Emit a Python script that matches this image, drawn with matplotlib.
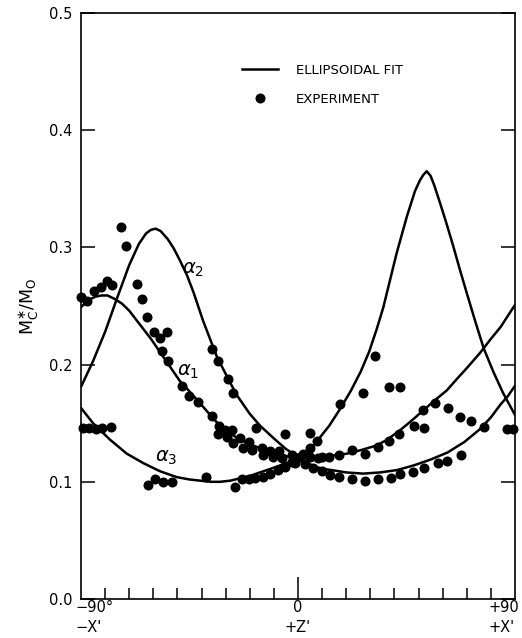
import matplotlib
matplotlib.use("Agg")
import matplotlib.pyplot as plt
import matplotlib.transforms as mtransforms
from matplotlib.lines import Line2D

plt.rcParams['font.family'] = ['DejaVu Sans']
plt.rcParams['mathtext.fontset'] = 'dejavusans'

# ---------------- data ----------------
# fitted curves (angle in degrees, M_c*/M_o)
a1_deg = [-90, -87, -84, -81.5, -79, -76, -73, -70, -65.5, -61, -57, -53, -49, -44.5, -40.6, -36,
          -32, -26.5, -21, -15, -10, -5, 0,
          4, 7, 10.5, 14, 20, 27, 34, 41, 48, 55, 62, 69, 75.5, 80, 84, 87, 90]
a1_val = [0.249, 0.255, 0.258, 0.259, 0.259, 0.256, 0.252, 0.246, 0.234, 0.222, 0.210, 0.198, 0.186,
          0.176, 0.167, 0.156, 0.147, 0.139, 0.133, 0.128, 0.125, 0.122, 0.119,
          0.116, 0.113, 0.111, 0.110, 0.108, 0.107, 0.108, 0.110, 0.114, 0.119, 0.125, 0.134, 0.145,
          0.155, 0.166, 0.173, 0.182]

a2_deg = [-90, -85, -80, -75, -70, -66, -63, -61, -59, -57, -54, -51.5, -49, -46, -43.4, -39.3,
          -33.7, -29, -25.4, -20, -15.8, -10, -5, -2, 0, 2, 5, 8, 13, 17.4, 22, 26, 29.5, 32.6,
          35.4, 40.9, 45.1, 48.5, 50.5, 52, 53.4, 55, 56.5, 58.9, 61.5, 64.4, 67, 70, 73.5, 77,
          81, 85, 90]
a2_val = [0.181, 0.203, 0.228, 0.257, 0.285, 0.303, 0.312, 0.315, 0.316, 0.314, 0.307, 0.299, 0.289,
          0.276, 0.262, 0.237, 0.207, 0.188, 0.174, 0.158, 0.148, 0.137, 0.128, 0.124, 0.123, 0.124,
          0.128, 0.135, 0.148, 0.162, 0.178, 0.194, 0.211, 0.230,
          0.249, 0.295, 0.326, 0.348, 0.357, 0.362, 0.365, 0.361, 0.353, 0.338, 0.321, 0.301, 0.282,
          0.261, 0.237, 0.214, 0.194, 0.176, 0.157]

a3_deg = [-90, -85, -78, -71, -64.2, -57.2, -50.3, -45, -40.6, -36, -32.4, -28, -24, -20, -15.8,
          -11.5, -7.5, -3.5, 0, 3, 6.3, 13, 20.2, 26, 32.6, 37, 42.3, 47, 52, 57, 61.7, 66, 70,
          75.5, 80, 84, 90]
a3_val = [0.163, 0.150, 0.136, 0.124, 0.116, 0.109, 0.104, 0.102, 0.101, 0.100, 0.100, 0.101, 0.103,
          0.105, 0.108, 0.111, 0.114, 0.117, 0.119,
          0.120, 0.121, 0.122, 0.124, 0.127, 0.131, 0.136, 0.144, 0.152, 0.161, 0.170, 0.178, 0.188,
          0.197, 0.210, 0.222, 0.232, 0.251]

# experimental points
exp_deg = [-90.1, -87.4, -84.6, -81.8, -79.1, -77.3, -73.5, -71.5, -66.9, -64.8, -62.8, -59.6, -57.2,
           -54.2, -56.5, -54.0, -48.2, -45.1, -41.6, -35.8, -32.6, -33.1, -30.3, -27.3, -29.6, -26.8,
           -24.1, -22.7, -20.2, -19.2, -15.1, -14.4, -11.6, -10.2, -7.8, -6.8, -2.6, -2.6, 0.8, 2.2,
           5.0, 8.4, 13.0, 9.8,
           -35.8, -33.1, -28.9, -26.8, -17.4, -5.4, 5.0, 8.0, 5.0, 17.1, 22.3, 27.8, 33.3, 37.7,
           42.0, 48.1, 52.4, 52.0, 56.8, 62.3, 67.2, 71.8, 77.3, 86.6, 89.3, 17.4, 27.1, 31.9,
           37.7, 42.3,
           -89.0, -86.7, -83.9, -81.2, -77.6, -62.1, -59.3, -55.9, -52.1, -38.2, -26.1, -23.4,
           -20.2, -17.8, -14.6, -11.6, -8.4, -5.4, -1.2, 2.9, 6.1, 9.8, 13.3, 17.1, 22.5, 27.8,
           33.3, 38.4, 42.3, 47.8, 52.4, 58.2, 61.9, 67.6]
exp_val = [0.258, 0.254, 0.263, 0.266, 0.271, 0.268, 0.317, 0.301, 0.269, 0.256, 0.241, 0.228, 0.223,
           0.228, 0.212, 0.203, 0.182, 0.173, 0.168, 0.156, 0.148, 0.141, 0.144, 0.144, 0.138, 0.133,
           0.137, 0.129, 0.134, 0.127, 0.129, 0.123, 0.126, 0.121, 0.126, 0.120, 0.123, 0.117, 0.121,
           0.124, 0.121, 0.120, 0.121, 0.121,
           0.213, 0.203, 0.188, 0.176, 0.146, 0.141, 0.142, 0.135, 0.129, 0.123, 0.127, 0.124, 0.130,
           0.135, 0.141, 0.148, 0.146, 0.161, 0.167, 0.163, 0.155, 0.152, 0.147, 0.145, 0.145, 0.166,
           0.176, 0.207, 0.181, 0.181,
           0.146, 0.146, 0.145, 0.146, 0.147, 0.097, 0.102, 0.100, 0.100, 0.104, 0.096, 0.102,
           0.102, 0.103, 0.104, 0.107, 0.110, 0.113, 0.116, 0.115, 0.112, 0.109, 0.106, 0.104,
           0.102, 0.101, 0.102, 0.103, 0.107, 0.108, 0.112, 0.116, 0.118, 0.123]

curve_labels = [r'$\alpha_1$', r'$\alpha_2$', r'$\alpha_3$']
curve_label_pos = [(-45.6, 0.194), (-43.4, 0.281), (-54.5, 0.121)]

y_ticks = [0.0, 0.1, 0.2, 0.3, 0.4, 0.5]
y_ticklabels = ['0.0', '0.1', '0.2', '0.3', '0.4', '0.5']
x_minor = list(range(-80, 90, 10))
x_labels = [('−90°', '−X\''), ('0', '+Z\''), ('+90', '+X\'')]
legend_labels = ['ELLIPSOIDAL FIT', 'EXPERIMENT']

# ---------------- figure ----------------
fig = plt.figure(figsize=(5.22, 6.38), dpi=100)
ax = fig.add_axes([0.1552, 0.0611, 0.8314, 0.9185])

lw = 1.8
for d, v in [(a1_deg, a1_val), (a2_deg, a2_val), (a3_deg, a3_val)]:
    ax.plot(d, v, color='black', lw=lw, solid_capstyle='round', solid_joinstyle='round')
ax.plot(exp_deg, exp_val, 'o', color='black', ms=6.2, clip_on=False, zorder=3)

for lab, (xd, yv) in zip(curve_labels, curve_label_pos):
    ax.text(xd, yv, lab, fontsize=14, ha='center', va='center')

ax.set_xlim(-90, 90)
ax.set_ylim(0, 0.5)

for s in ax.spines.values():
    s.set_linewidth(1.2)

ax.set_yticks(y_ticks)
ax.set_yticklabels(y_ticklabels, fontsize=10.5)
ax.tick_params(axis='y', which='major', direction='in', length=10, width=1.1,
               left=True, right=True, pad=6)

ax.set_xticks([0])
ax.set_xticklabels([])
ax.set_xticks(x_minor, minor=True)
ax.tick_params(axis='x', which='major', direction='in', length=16, width=1.1, bottom=True, top=False)
ax.tick_params(axis='x', which='minor', direction='in', length=8, width=1.1, bottom=True, top=False)

# x labels (two lines)
trans = mtransforms.blended_transform_factory(ax.transData, ax.transAxes)
x_anchor = [-90, 0, 90]
x_off = [-4.0, 0, -19.4]
x_ha = ['left', 'center', 'left']
for (l1, l2), xa, xo, ha in zip(x_labels, x_anchor, x_off, x_ha):
    ax.annotate(l1, xy=(xa, 0), xycoords=trans, xytext=(xo, -6.0), textcoords='offset points',
                ha=ha, va='center', fontsize=10.5, annotation_clip=False)
    ax.annotate(l2, xy=(xa, 0), xycoords=trans, xytext=(xo, -20.5), textcoords='offset points',
                ha=ha, va='center', fontsize=10.5, annotation_clip=False)

ax.set_ylabel(r'$\mathregular{M_C^{\ast}/M_O}$', fontsize=12.5, labelpad=6)

# legend
handles = [Line2D([], [], color='black', lw=lw),
           Line2D([], [], color='black', marker='o', ls='none', ms=6.2)]
ax.legend(handles, legend_labels, loc='upper left',
          bbox_to_anchor=(0.370, 0.913), frameon=False, fontsize=9.5,
          handlelength=2.75, handletextpad=1.36, labelspacing=1.2,
          borderpad=0, borderaxespad=0)

fig.savefig('out.png', dpi=100)
